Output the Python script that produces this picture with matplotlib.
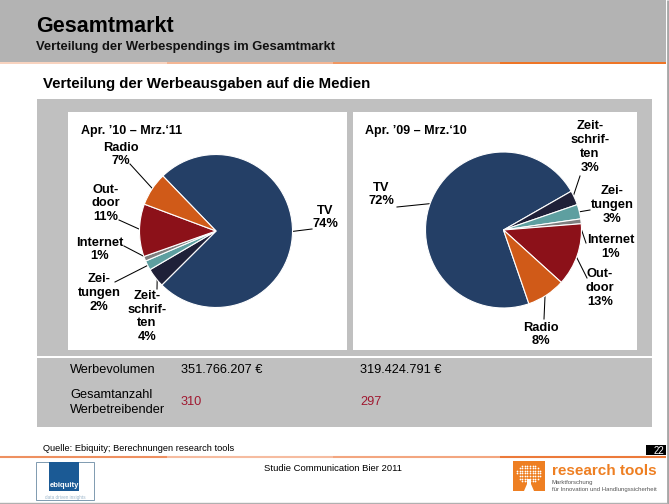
import matplotlib
matplotlib.use('Agg')
import matplotlib.pyplot as plt
from matplotlib.patches import Rectangle, Polygon
import numpy as np

# ---------------- data ----------------
categories = ['TV', 'Zeitschriften', 'Zeitungen', 'Internet', 'Outdoor', 'Radio']
label_names = ['TV', 'Zeit-\nschrif-\nten', 'Zei-\ntungen', 'Internet', 'Out-\ndoor', 'Radio']
share_1011 = [74, 4, 2, 1, 11, 7]
share_0910 = [72, 3, 3, 1, 13, 8]
periods = ['Apr. \u201910 \u2013 Mrz.\u201811', 'Apr. \u201909 \u2013 Mrz.\u201810']
werbevolumen = ['351.766.207 \u20ac', '319.424.791 \u20ac']
werbetreibende = [310, 297]

colors = ['#243F66', '#1F2038', '#5E9FA0', '#7F7F7F', '#8C1119', '#D05A18']

plt.rcParams['font.family'] = ['Liberation Sans', 'DejaVu Sans']

W, H = 669, 504
fig = plt.figure(figsize=(W / 100, H / 100), dpi=100)
bg = fig.add_axes([0, 0, 1, 1])
bg.set_xlim(0, W)
bg.set_ylim(H, 0)
bg.axis('off')


def rect(x0, y0, x1, y1, color, **kw):
    bg.add_patch(Rectangle((x0, y0), x1 - x0, y1 - y0, facecolor=color,
                           edgecolor=kw.pop('ec', 'none'), lw=kw.pop('lw', 0), **kw))


# ---------------- header ----------------
rect(0, 0, 666, 62, '#B3B3B3')
for i, c in enumerate(['#F8D3BF', '#F4B694', '#F09762', '#EE7526']):
    rect(i * 166.5, 62, (i + 1) * 166.5, 64, c)
bg.plot([667.5, 667.5], [0, H], color='#A6A6A6', lw=2, solid_capstyle='butt')

bg.text(36, 32, 'Gesamtmarkt', fontsize=15.5, fontweight='bold', va='baseline', ha='left')
bg.text(36, 50, 'Verteilung der Werbespendings im Gesamtmarkt', fontsize=9.4,
        fontweight='bold', va='baseline', ha='left', color='#111111')
bg.text(43, 88, 'Verteilung der Werbeausgaben auf die Medien', fontsize=10.8,
        fontweight='bold', va='baseline', ha='left')

# ---------------- panels ----------------
rect(37, 99, 652, 427, '#C0C0C0')
rect(68, 112, 347, 350, 'white')
rect(353, 112, 637, 350, 'white')
rect(37, 356, 652, 358, 'white')

bg.text(81, 134, periods[0], fontsize=9, fontweight='bold', va='baseline', ha='left')
bg.text(365, 134, periods[1], fontsize=9, fontweight='bold', va='baseline', ha='left')


def add_pie(cx, cy, r, values, start, label_pos, anchors):
    ax = fig.add_axes([(cx - r) / W, 1 - (cy + r) / H, 2 * r / W, 2 * r / H])
    wedges, _ = ax.pie(values, colors=colors, startangle=start, counterclock=False,
                       wedgeprops=dict(edgecolor='white', linewidth=0.8))
    ax.set_xlim(-1, 1)
    ax.set_ylim(-1, 1)
    ax.axis('off')
    for w, name, v, (lx, ly), (ax_, ay_) in zip(wedges, label_names, values, label_pos, anchors):
        th = np.deg2rad((w.theta1 + w.theta2) / 2)
        ex = cx + 0.97 * r * np.cos(th)
        ey = cy - 0.97 * r * np.sin(th)
        bg.plot([ax_, ex], [ay_, ey], color='black', lw=0.75)
        bg.text(lx, ly, f'{name}\n{v}%', ha='center', va='center', fontsize=9.3,
                fontweight='bold', linespacing=1.22)


left_label_pos = [(325, 217.5), (147, 316.5), (99, 293), (100, 249.5), (106, 203.5), (121, 154.5)]
left_anchors = [(312, 229), (157, 289), (115, 282), (124, 246), (119, 220), (130, 164)]
add_pie(216, 231, 76.5, share_1011, 134, left_label_pos, left_anchors)

right_label_pos = [(381.5, 194.5), (590, 147), (612, 205), (611, 247), (600, 288), (541, 334.5)]
right_anchors = [(397, 207), (580, 176), (590, 210), (586, 243), (587, 278), (544, 319)]
add_pie(503.5, 230, 78, share_0910, -71, right_label_pos, right_anchors)

# ---------------- table ----------------
tfs = 9.2
bg.text(70, 373, 'Werbevolumen', fontsize=tfs, va='baseline', ha='left')
bg.text(181, 373, werbevolumen[0], fontsize=tfs, va='baseline', ha='left')
bg.text(360, 373, werbevolumen[1], fontsize=tfs, va='baseline', ha='left')
bg.text(70, 398, 'Gesamtanzahl', fontsize=tfs, va='baseline', ha='left')
bg.text(70, 413, 'Werbetreibender', fontsize=tfs, va='baseline', ha='left')
bg.text(181, 405, str(werbetreibende[0]), fontsize=tfs, va='baseline', ha='left', color='#A01830')
bg.text(360, 405, str(werbetreibende[1]), fontsize=tfs, va='baseline', ha='left', color='#A01830')

# ---------------- footer ----------------
bg.text(43, 451, 'Quelle: Ebiquity; Berechnungen research tools', fontsize=6.7,
        va='baseline', ha='left')
for i, c in enumerate(['#EE9060', '#F6BCA0', '#F3A680', '#EC7A3A']):
    bg.plot([i * 166.5, (i + 1) * 166.5], [457, 457], color=c, lw=1.5, solid_capstyle='butt')
rect(646, 445, 666, 455, 'black')
bg.text(664, 453.5, '22', fontsize=7, color='white', ha='right', va='baseline')
bg.text(333, 471, 'Studie Communication Bier 2011', fontsize=6.8, ha='center', va='baseline')
bg.plot([0, 666], [502.5, 502.5], color='#B0B0B0', lw=1)

# ebiquity logo
rect(36, 462, 94, 500, 'white', ec='#7F9AB0', lw=0.7)
rect(49, 462, 79, 491, '#1B5A95')
bg.text(64, 487, 'ebiquity', fontsize=5.5, fontweight='bold', color='white', ha='center', va='baseline')
bg.text(65, 498.5, 'data driven insights', fontsize=3.3, color='#9DB7CB', ha='center', va='baseline')

# research tools logo
rect(513, 461, 545, 491, '#EE7F22')
gx, gy = np.meshgrid(np.arange(517, 542, 2.6), np.arange(463, 483, 2.6))
inside = ((gx - 529) ** 2 / 12.5 ** 2 + (gy - 473) ** 2 / 10 ** 2) < 1
bg.scatter(gx[inside], gy[inside], s=1.6, color='white', lw=0)
bg.add_patch(Polygon([(524, 491), (527, 484), (527, 479), (531, 479), (531, 484), (534, 491)],
                     closed=True, facecolor='white', edgecolor='none'))
bg.text(552, 475, 'research tools', fontsize=11, fontweight='bold', color='#EE7F22',
        ha='left', va='baseline')
bg.text(552, 484, 'Marktforschung', fontsize=4.3, color='#555555', ha='left', va='baseline')
bg.text(552, 491, 'f\u00fcr Innovation und Handlungssicherheit', fontsize=4.3, color='#555555',
        ha='left', va='baseline')

fig.savefig('out.png', dpi=100)
